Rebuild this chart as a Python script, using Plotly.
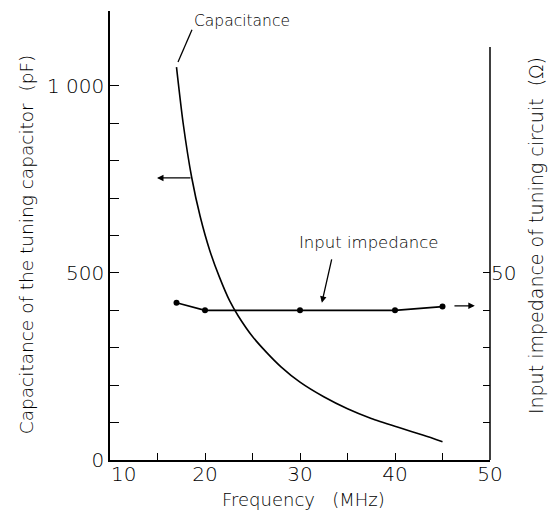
import plotly.graph_objects as go

# Capacitance curve (pF) vs frequency (MHz)
cap_freq = [17.0, 17.7, 18.6, 19.5, 20.5, 21.5, 22.6, 23.5, 25.0, 26.5, 28.0, 30.0, 32.5, 35.0, 37.5, 40.5, 43.0, 45.0]
cap_pf = [1050, 900, 755, 650, 560, 490, 425, 385, 330, 287, 249, 208, 169, 137, 111, 86, 66, 49]

# Input impedance (ohm)
imp_freq = [17, 20, 30, 40, 45]
imp_ohm = [42, 40, 40, 40, 41]

x_ticks = [10, 15, 20, 25, 30, 35, 40, 45, 50]
x_ticktext = ["", "", "20", "", "30", "", "40", "", "50"]
x_first_label = "10"
y_ticks = [0, 100, 200, 300, 400, 500, 600, 700, 800, 900, 1000]
y_ticktext = ["0", "", "", "", "", "500", "", "", "", "", "1 000"]
y2_ticks = [10, 20, 30, 40, 50]
y2_ticktext = ["", "", "", "", "50"]

FONT = "DejaVu Sans"
W = 200
fig = go.Figure()
fig.add_trace(go.Scatter(x=cap_freq, y=cap_pf, mode="lines",
                         line=dict(color="black", width=1.6, shape="spline", smoothing=0.7),
                         showlegend=False))
fig.add_trace(go.Scatter(x=imp_freq, y=imp_ohm, mode="lines+markers", yaxis="y2",
                         line=dict(color="black", width=1.6),
                         marker=dict(color="black", size=6),
                         showlegend=False))

tf = dict(size=20, family=FONT, weight=W, color="black")
fig.update_layout(
    width=549, height=514,
    margin=dict(l=110, r=59, t=11, b=54),
    paper_bgcolor="white", plot_bgcolor="white",
    font=dict(family=FONT, color="black", size=18, weight=W),
    xaxis=dict(range=[10, 50], tickvals=x_ticks, ticktext=x_ticktext,
               ticks="inside", ticklen=7, tickwidth=1.3, tickcolor="black",
               showline=True, linecolor="black", linewidth=1.5, showgrid=False, zeroline=False,
               tickfont=tf, ticklabelstandoff=-5),
    yaxis=dict(range=[0, 1200], tickvals=y_ticks, ticktext=y_ticktext,
               ticks="inside", ticklen=9, tickwidth=1.3, tickcolor="black",
               showline=True, linecolor="black", linewidth=1.5, showgrid=False, zeroline=False,
               tickfont=tf),
    yaxis2=dict(range=[0, 120], overlaying="y", side="right", tickvals=y2_ticks, ticktext=y2_ticktext,
                ticks="inside", ticklen=7, tickwidth=1.3, tickcolor="black",
                showline=False, showgrid=False, zeroline=False,
                tickfont=tf),
)

# first x tick label, set just right of the corner
fig.add_annotation(text=x_first_label, x=x_ticks[0], y=0, xref="x", yref="y", showarrow=False,
                   xanchor="left", yanchor="top", xshift=-1, yshift=0, font=tf)

# right axis line (shorter than left)
fig.add_shape(type="line", xref="paper", yref="y", x0=1, x1=1, y0=0, y1=1104,
              line=dict(color="black", width=1.5))

# titles
fig.add_annotation(text="Frequency\u00a0\u00a0\u00a0(MHz)", xref="paper", yref="paper", x=0.508, y=-0.088,
                   showarrow=False, font=dict(size=18), xanchor="center", yanchor="middle")
fig.add_annotation(text="Capacitance of the tuning capacitor\u00a0\u00a0(pF)", xref="paper", yref="paper",
                   x=-0.219, y=0.48, textangle=-90, showarrow=False, font=dict(size=18.5),
                   xanchor="center", yanchor="middle")
fig.add_annotation(text="Input impedance of tuning circuit\u00a0\u00a0(\u03a9)", xref="paper", yref="paper",
                   x=1.12, y=0.5, textangle=-90, showarrow=False, font=dict(size=19),
                   xanchor="center", yanchor="middle")

# labels
fig.add_annotation(text="Capacitance", x=18.6, y=1172, xref="x", yref="y", showarrow=False,
                   xanchor="left", yanchor="middle", font=dict(size=15.5))
fig.add_annotation(text="Input impedance", x=29.7, y=581, xref="x", yref="y", showarrow=False,
                   xanchor="left", yanchor="middle", font=dict(size=16.5))

# leader lines and arrows
fig.add_shape(type="line", xref="x", yref="y", x0=18.63, y0=1150, x1=17.16, y1=1064,
              line=dict(color="black", width=1.3))
fig.add_annotation(x=32.3, y=420, ax=33.37, ay=540, xref="x", yref="y", axref="x", ayref="y",
                   text="", showarrow=True, arrowhead=2, arrowsize=1, arrowwidth=1.3, arrowcolor="black")
fig.add_annotation(x=14.95, y=754, ax=18.63, ay=754, xref="x", yref="y", axref="x", ayref="y",
                   text="", showarrow=True, arrowhead=2, arrowsize=1, arrowwidth=1.3, arrowcolor="black")
fig.add_annotation(x=48.4, y=412, ax=46.1, ay=412, xref="x", yref="y", axref="x", ayref="y",
                   text="", showarrow=True, arrowhead=2, arrowsize=1, arrowwidth=1.3, arrowcolor="black")

fig.write_html("out.html")
